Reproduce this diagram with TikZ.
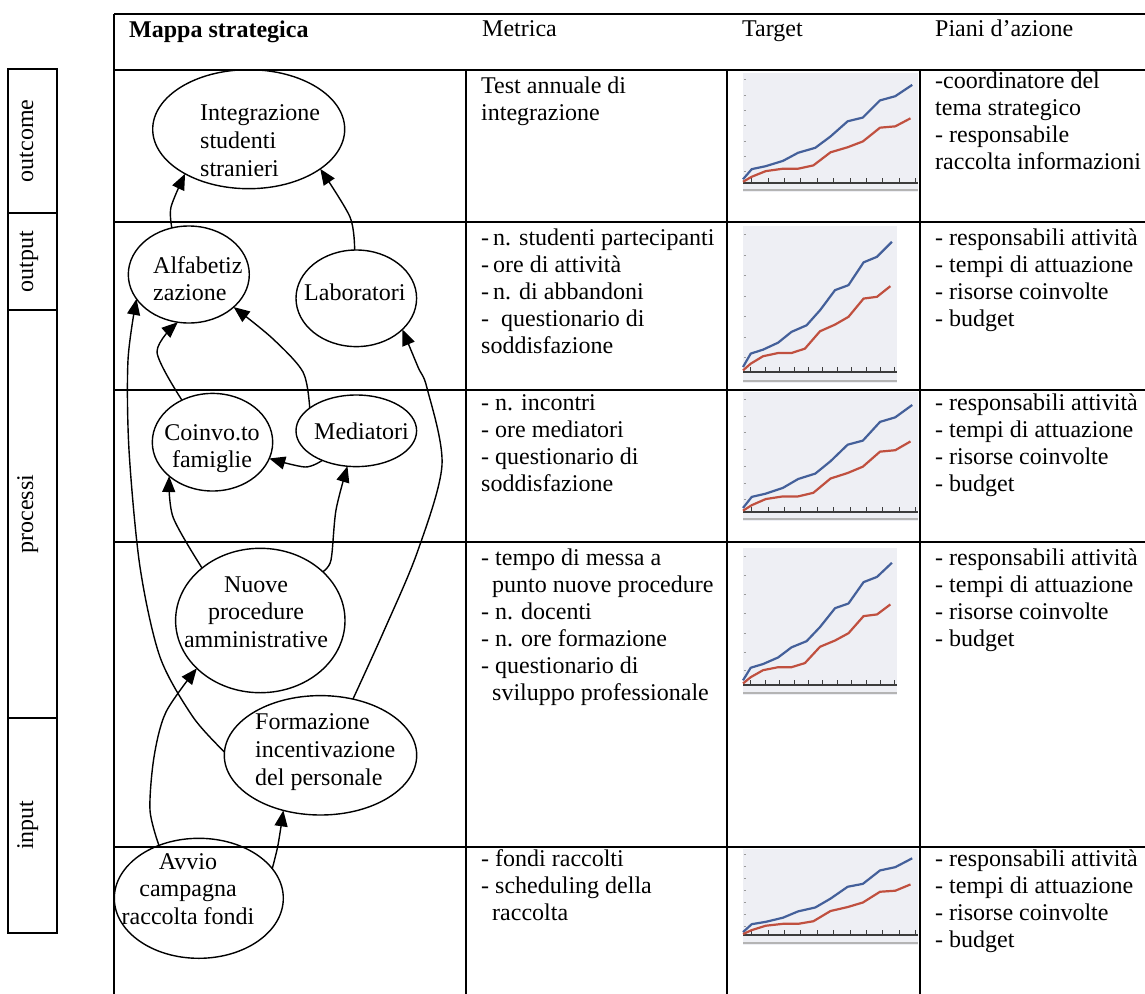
\documentclass[tikz,border=0pt]{standalone}
\usepackage{fontspec}
\setmainfont{Liberation Serif}
\usetikzlibrary{arrows.meta,shapes.geometric}

\definecolor{chartbg}{HTML}{EEEFF4}
\definecolor{seriesA}{HTML}{44609A}
\definecolor{seriesB}{HTML}{C0503F}
\definecolor{axisgrey}{HTML}{3C3C3C}
\definecolor{ruleGrey}{HTML}{B4B4B4}
\definecolor{tickGrey}{HTML}{9A9A9A}

% multi-line nodes are placed by the baseline of their LAST line
\tikzset{
  grid line/.style={line width=1.8pt},
  bubble/.style={draw, ellipse, line width=1.4pt, inner sep=0pt, outer sep=0pt},
  txt/.style={font=\fontsize{24}{27}\selectfont, inner sep=0pt, align=left, anchor=base west},
  bubble text/.style={txt, font=\fontsize{24}{28}\selectfont},
  centred text/.style={bubble text, align=center, anchor=base},
  side label/.style={font=\fontsize{24}{27}\selectfont, inner sep=0pt, rotate=90, anchor=base},
  flow/.style={line width=1.4pt, -{Triangle[length=16pt,width=13pt]}},
}

% small trend chart: #1 left, #2 right, #3 top, #4 axis, #5 lower rule (all in px)
\newcommand\targetchart[5]{%
  \pgfmathsetmacro\chw{#2-#1}%
  \pgfmathsetmacro\chh{#4-#3}%
  \begin{scope}[shift={(#1,#4)}]
    \fill[chartbg] (0,#3-#4) rectangle (\chw,#5-#4+2);
    \draw[ruleGrey, line width=1.2pt] (0,#5-#4) -- (\chw,#5-#4);
    \foreach \t in {0.103,0.24,0.38,0.52,0.66,0.80,0.94}
      \draw[tickGrey, line width=0.8pt] (1,-\t*\chh) -- (3,-\t*\chh);
    \foreach \t in {0.05,0.1435,0.237,0.3305,0.424,0.5175,0.611,0.7045,0.798,0.8915,0.985}
      \draw[axisgrey, line width=0.8pt] (\t*\chw,0) -- (\t*\chw,-5);
    \draw[axisgrey, line width=2.2pt] (0,0) -- (\chw,0);
    \begin{scope}[x=\chw pt, y=\chh pt]
      \draw[seriesA, line width=2.2pt, line join=round]
        (0,0.034) -- (0.05,0.126) -- (0.13,0.153) -- (0.228,0.201) -- (0.315,0.275)
        -- (0.413,0.320) -- (0.5,0.423) -- (0.598,0.561) -- (0.685,0.595)
        -- (0.783,0.751) -- (0.870,0.789) -- (0.967,0.892);
      \draw[seriesB, line width=2.2pt, line join=round]
        (0,0.011) -- (0.05,0.057) -- (0.13,0.108) -- (0.228,0.130) -- (0.315,0.130)
        -- (0.402,0.160) -- (0.5,0.279) -- (0.598,0.325) -- (0.685,0.378)
        -- (0.783,0.503) -- (0.870,0.515) -- (0.957,0.588);
    \end{scope}
  \end{scope}
}

\begin{document}
\begin{tikzpicture}[x=1pt, y=-1pt]
\useasboundingbox (0,0) rectangle (1145,993);

% ---- level labels on the left
\draw[grid line] (8,69) rectangle (57,933);
\foreach \y in {213,310,718} \draw[grid line] (8,\y) -- (57,\y);
\node[side label] (lv-outcome) at (33,141) {outcome};
\node[side label] (lv-output) at (33,262) {output};
\node[side label] (lv-processi) at (33,514) {processi};
\node[side label] (lv-input) at (33,825) {input};

% ---- table grid
\draw[grid line] (114,14) -- (1150,14);
\draw[grid line] (114,14) -- (114,1000);
\foreach \y in {70,222,390,542,847} \draw[grid line] (114,\y) -- (1150,\y);
\foreach \x in {466,727,920} \draw[grid line] (\x,70) -- (\x,1000);

% ---- header
\node[txt, font=\fontsize{24}{27}\selectfont\bfseries] (h-map) at (129,37) {Mappa strategica};
\node[txt] (h-met) at (482,36) {Metrica};
\node[txt] (h-tgt) at (742,36) {Target};
\node[txt] (h-act) at (935,36) {Piani d’azione};

% ---- metrics
\node[txt] (m1) at (481,120) {Test annuale di\\integrazione};
\node[txt] (m2) at (481,353) {-\,n. studenti partecipanti\\-\,ore di attività\\-\,n. di abbandoni\\-\ \ questionario di\\soddisfazione};
\node[txt] (m3) at (481,491) {- n. incontri\\- ore mediatori\\- questionario di\\soddisfazione};
\node[txt] (m4) at (481,700) {- tempo di messa a\\\hspace*{11pt}punto nuove procedure\\- n. docenti\\- n. ore formazione\\- questionario di\\\hspace*{11pt}sviluppo professionale};
\node[txt] (m5) at (481,920) {- fondi raccolti\\- scheduling della\\\hspace*{11pt}raccolta};

% ---- action plans
\node[txt] (a1) at (935,169) {-coordinatore del\\tema strategico\\- responsabile\\raccolta informazioni};
\node[txt] (a2) at (935,326) {- responsabili attività\\- tempi di attuazione\\- risorse coinvolte\\- budget};
\node[txt] (a3) at (935,491) {- responsabili attività\\- tempi di attuazione\\- risorse coinvolte\\- budget};
\node[txt] (a4) at (935,646) {- responsabili attività\\- tempi di attuazione\\- risorse coinvolte\\- budget};
\node[txt] (a5) at (935,947) {- responsabili attività\\- tempi di attuazione\\- risorse coinvolte\\- budget};

% ---- target charts
\targetchart{743}{918}{73}{183}{190}
\targetchart{743}{897}{226}{372}{381}
\targetchart{743}{918}{392}{512}{519}
\targetchart{743}{897}{548}{685}{693}
\targetchart{743}{918}{849}{935}{943}

% ---- strategy map
\node[bubble, minimum width=192pt, minimum height=119pt] (integ) at (248.7,129.2) {};
\node[bubble, minimum width=121pt, minimum height=97pt] (alfa) at (188.8,274.5) {};
\node[bubble, minimum width=120.6pt, minimum height=96.6pt] (labo) at (356.3,298.3) {};
\node[bubble, minimum width=120.4pt, minimum height=97.6pt] (coinvo) at (212.5,442.2) {};
\node[bubble, minimum width=120.6pt, minimum height=71.6pt] (medi) at (356.3,430.8) {};
\node[bubble, minimum width=169.4pt, minimum height=144.4pt] (nuove) at (260.3,620.5) {};
\node[bubble, minimum width=192.4pt, minimum height=119.4pt] (forma) at (320.5,755.3) {};
\node[bubble, minimum width=169pt, minimum height=120pt] (avvio) at (198.8,898.3) {};

\node[bubble text] (integ-t) at (200,176) {Integrazione\\studenti\\stranieri};
\node[txt] (alfa-t) at (153,300) {Alfabetiz\\zazione};
\node[txt] (labo-t) at (304,300) {Laboratori};
\node[centred text, font=\fontsize{24}{27}\selectfont] (coinvo-t) at (212,467) {Coinvo.to\\famiglie};
\node[txt] (medi-t) at (314,439) {Mediatori};
\node[centred text, font=\fontsize{24}{27.5}\selectfont] (nuove-t) at (256,647) {Nuove\\procedure\\amministrative};
\node[bubble text] (forma-t) at (255,785) {Formazione\\incentivazione\\del personale};
\node[centred text, font=\fontsize{24}{27.5}\selectfont] (avvio-t) at (188,924) {Avvio\\campagna\\raccolta fondi};

% ---- links of the map
\draw[flow] plot[smooth] coordinates {(alfa.110) (171,207) (integ.215)};
\draw[flow] plot[smooth] coordinates {(labo.92) (350,217) (integ.331)};
\draw[flow] plot[smooth] coordinates {(coinvo.126) (157,352) (alfa.257)};
\draw[flow] plot[smooth] coordinates {(medi.154) (303,372) (272,338) (alfa.324)};
\draw[flow] plot[smooth] coordinates {(medi.221) (305,467) (coinvo.344)};
\draw[flow] plot[smooth] coordinates {(nuove.138) (173,517) (coinvo.218)};
\draw[flow] plot[smooth] coordinates {(nuove.38) (331,560) (336,510) (medi.256)};
\draw[flow] plot[smooth] coordinates {(forma.178) (193,717) (160,657) (140,567) (129,450) (128,360) (alfa.205)};
\draw[flow] plot[smooth] coordinates {(forma.60) (383,633) (417,553) (442,465) (427,388) (418,367) (labo.326)};
\draw[flow] plot[smooth] coordinates {(avvio.127) (150,810) (154,757) (166,712) (nuove.217)};
\draw[flow] plot[smooth] coordinates {(avvio.22) (278,845) (forma.236)};
\end{tikzpicture}
\end{document}
